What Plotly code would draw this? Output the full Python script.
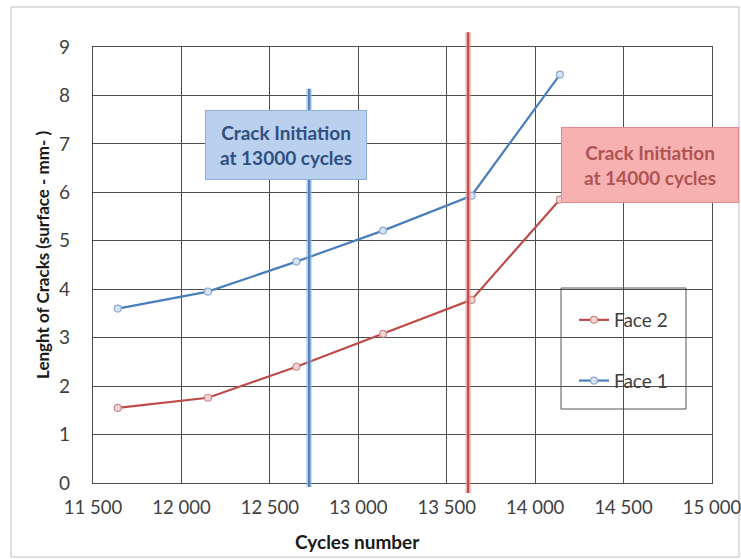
import plotly.graph_objects as go

# Data
cycles = [11640, 12150, 12650, 13140, 13640, 14140]
face1 = [3.60, 3.95, 4.57, 5.21, 5.93, 8.43]
face2 = [1.55, 1.76, 2.40, 3.08, 3.78, 5.85]
x_tickvals = [11500, 12000, 12500, 13000, 13500, 14000, 14500, 15000]
x_ticktext = ["11 500", "12 000", "12 500", "13 000", "13 500", "14 000", "14 500", "15 000"]
y_tickvals = [0, 1, 2, 3, 4, 5, 6, 7, 8, 9]
init_face1_x = 12722
init_face2_x = 13621
label1 = "Crack Initiation<br>at 13000 cycles"
label2 = "Crack Initiation<br>at 14000 cycles"

FONT = "Lato"
BLUE = "#4a7ebb"
RED = "#be4b48"
GRID = "#4d4d4d"

fig = go.Figure()
fig.add_trace(go.Scatter(
    x=cycles, y=face2, name="Face 2", mode="lines+markers",
    line=dict(color=RED, width=2.2),
    marker=dict(symbol="circle", size=7, color="#f2d4d4", line=dict(color="#c98b8a", width=1.2)),
    legendgroup="g2"))
fig.add_trace(go.Scatter(
    x=cycles, y=face1, name="Face 1", mode="lines+markers",
    line=dict(color=BLUE, width=2.2),
    marker=dict(symbol="circle", size=7, color="#d6e3f3", line=dict(color="#8aa9d3", width=1.2)),
    legendgroup="g1"))

shapes = []
# Vertical initiation lines (glow + core)
for xv, y0, y1, glow, core in [
    (init_face1_x, -0.009, 0.904, "rgba(150,190,230,0.55)", "#4f81bd"),
    (init_face2_x, -0.023, 1.034, "rgba(240,160,160,0.55)", "#c0504d"),
]:
    shapes.append(dict(type="line", xref="x", yref="paper", x0=xv, x1=xv, y0=y0, y1=y1,
                       line=dict(color=glow, width=6), layer="above"))
    shapes.append(dict(type="line", xref="x", yref="paper", x0=xv, x1=xv, y0=y0, y1=y1,
                       line=dict(color=core, width=2.5), layer="above"))

# Legend frame
shapes.append(dict(type="rect", xref="paper", yref="paper",
                   x0=(561 - 93) / 619, x1=(686 - 93) / 619,
                   y0=(483 - 409) / 436, y1=(483 - 288) / 436,
                   line=dict(color="#555555", width=1), fillcolor="white", layer="between"))
# Outer chart border
shapes.append(dict(type="rect", xref="paper", yref="paper",
                   x0=(11 - 93) / 619, x1=(739 - 93) / 619,
                   y0=(483 - 557) / 436, y1=(483 - 7) / 436,
                   line=dict(color="#bfbfbf", width=1), fillcolor="rgba(0,0,0,0)", layer="below"))

annotations = [
    dict(text=label1, x=(286.3 - 93) / 619, y=(483 - 145) / 436, xref="paper", yref="paper",
         xanchor="center", yanchor="middle",
         showarrow=False, width=156, height=64, borderpad=2,
         bgcolor="#b9d0ee", bordercolor="#8eaedb", borderwidth=1,
         font=dict(family=FONT, size=19, color="#2f4f7f", weight="bold"), align="center"),
    dict(text=label2, x=(649.9 - 93) / 619, y=(483 - 165) / 436, xref="paper", yref="paper",
         xanchor="center", yanchor="middle",
         showarrow=False, width=172, height=70, borderpad=2,
         bgcolor="#f7b1b1", bordercolor="#e58a8a", borderwidth=1,
         font=dict(family=FONT, size=19, color="#b05452", weight="bold"), align="center"),
    dict(text="Lenght of Cracks (surface - mm- )", textangle=-90,
         x=(42 - 93) / 619, y=(483 - 255) / 436, xref="paper", yref="paper",
         xanchor="center", yanchor="middle",
         showarrow=False, font=dict(family=FONT, size=17, color="#1a1a1a", weight="bold")),
    dict(text="Cycles number", x=(357.6 - 93) / 619, y=(483 - 541.7) / 436,
         xref="paper", yref="paper", xanchor="center", yanchor="middle", showarrow=False,
         font=dict(family=FONT, size=19, color="#1a1a1a", weight="bold")),
]

fig.update_layout(
    width=741, height=559,
    margin=dict(l=93, r=29, t=47, b=76, autoexpand=False),
    paper_bgcolor="white", plot_bgcolor="white",
    font=dict(family=FONT, size=19, color="#404040"),
    shapes=shapes, annotations=annotations,
    showlegend=True,
    legend=dict(x=(574 - 93) / 619, y=(483 - 301) / 436, xanchor="left", yanchor="top",
                bgcolor="rgba(0,0,0,0)", borderwidth=0, tracegroupgap=33,
                font=dict(family=FONT, size=19, color="#404040")),
    xaxis=dict(range=[11500, 15000], tickvals=x_tickvals, ticktext=x_ticktext,
               showgrid=True, gridcolor=GRID, gridwidth=1.3,
               showline=True, linecolor=GRID, linewidth=1.3, mirror=True,
               zeroline=False, ticks="", ticklabelstandoff=8, ticklabeloverflow="allow",
               automargin=False,
               tickfont=dict(family=FONT, size=18.5, color="#404040")),
    yaxis=dict(range=[0, 9], tickvals=y_tickvals,
               showgrid=True, gridcolor=GRID, gridwidth=1.3,
               showline=True, linecolor=GRID, linewidth=1.3, mirror=True,
               zeroline=False, ticks="", ticklabelstandoff=18, automargin=False,
               tickfont=dict(family=FONT, size=19, color="#404040")),
)

fig.write_html("out.html", config={"displayModeBar": False},
               post_script="document.body.style.margin='0px';document.body.style.overflow='hidden';")
